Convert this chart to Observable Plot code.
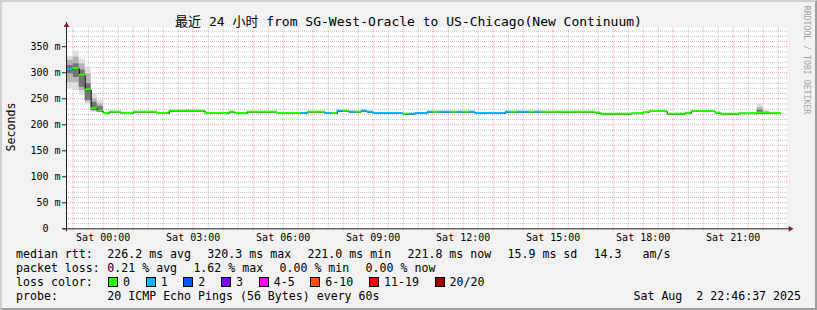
<!DOCTYPE html>
<html><head><meta charset="utf-8">
<script src="https://cdn.jsdelivr.net/npm/d3@7"></script>
<script src="https://cdn.jsdelivr.net/npm/@observablehq/plot@0.6"></script>
<style>
html,body{margin:0;padding:0;background:#f2f2f2;}
#wrap{position:relative;width:817px;height:310px;overflow:hidden;background:#f2f2f2;font-family:"DejaVu Sans Mono","Noto Sans CJK SC",monospace;color:#000;}
#wrap svg{position:absolute;left:0;top:0;}
.t{position:absolute;white-space:pre;line-height:14px;font-size:11.6px;}
.sw{position:absolute;width:8px;height:8px;border:1px solid #000;}
#shade{position:absolute;left:0;top:0;width:817px;height:310px;box-sizing:border-box;border-top:2px solid #cfcfcf;border-left:2px solid #cfcfcf;border-bottom:2px solid #9e9e9e;border-right:2px solid #9e9e9e;pointer-events:none;}
</style></head>
<body><div id="wrap"></div>
<script>
// ---- data ----
const titleText = "最近 24 小时 from SG-West-Oracle to US-Chicago(New Continuum)";
const yAxisTitle = "Seconds";
const watermark = "RRDTOOL / TOBI OETIKER";
const rangeStart = "2025-08-01T22:46:37Z";
const rangeEnd = "2025-08-02T22:46:37Z";
const firstBin = "2025-08-01T22:48:00Z";
const binMinutes = 12;
// median rtt (ms) per 12-minute bin
const medians = [
306, 308, 295, 267, 231, 226,
221.7, 224.3, 224.3, 221.7, 221.7, 224.3, 224.3, 224.3, 224.3, 221.7,
221.7, 226.2, 226.2, 226.2, 226.2, 226.2, 226.2, 221.7, 221.7, 221.7,
221.7, 224.3, 221.7, 221.7, 224.3, 224.3, 224.3, 224.3, 224.3, 221.7,
221.7, 221.7, 221.7, 221.7, 224.3, 224.3, 224.3, 221.7, 221.7, 226.2,
226.2, 224.3, 224.3, 226.2, 224.3, 221.7, 221.7, 221.7, 221.7, 221.7,
220.4, 220.4, 221.7, 221.7, 224.3, 224.3, 224.3, 224.3, 224.3, 224.3,
224.3, 224.3, 221.7, 221.7, 221.7, 221.7, 221.7, 224.3, 224.3, 224.3,
224.3, 224.3, 224.3, 224.3, 224.3, 224.3, 224.3, 224.3, 224.3, 224.3,
224.3, 224.3, 222.5, 220.4, 220.4, 220.4, 220.4, 220.4, 221.5, 221.5,
223.5, 225.6, 225.6, 225.6, 220.4, 220.4, 220.4, 222, 225.6, 225.6,
225.6, 225.6, 222.5, 220.4, 220.4, 220.4, 221.5, 221.5, 221.5, 222.5,
222, 221.8, 221.8
];
// lost pings (of 20) per bin
const lostPings = [
1,0,0,0,0,0,
0,0,0,0,0,0,0,0,0,0,
0,0,0,0,0,0,0,0,0,0,
0,0,0,0,0,0,0,0,0,0,
0,0,0,1,0,0,0,1,0,1,
0,1,0,1,1,1,1,1,1,1,
0,1,1,1,1,0,1,1,0,1,
0,1,1,1,1,1,1,1,0,1,
1,0,1,0,0,0,0,0,0,0,
0,0,0,0,0,0,0,0,0,0,
0,0,0,0,0,0,0,0,0,0,
0,0,0,0,0,0,0,0,0,0,
0,0,0
];
// smoke (ping spread) for bins where it is visible
const smokeBins    = [0, 1, 2, 3, 4, 5, 115, 116];
const smokeOuterLo = [269, 266, 256, 240, 224, 224, 221, 221];
const smokeOuterHi = [331, 341, 326, 311, 260, 247, 240, 228];
const smokeMidLo   = [281, 281, 266, 244, 226, 225.6, 221.5, 221.5];
const smokeMidHi   = [324, 330, 317, 298, 250, 240, 233, 225];
const smokeCoreLo  = [298, 291, 272, 247, 227.5, 226, 222, 222];
const smokeCoreHi  = [314, 317, 305, 279, 243, 235, 228, 223];
// axes
const yTicks = [0, 50, 100, 150, 200, 250, 300, 350];
const yMax = 387;
const xTickTimes = ["2025-08-02T00:00:00Z","2025-08-02T03:00:00Z","2025-08-02T06:00:00Z","2025-08-02T09:00:00Z","2025-08-02T12:00:00Z","2025-08-02T15:00:00Z","2025-08-02T18:00:00Z","2025-08-02T21:00:00Z"];
const xTickLabels = ["Sat 00:00","Sat 03:00","Sat 06:00","Sat 09:00","Sat 12:00","Sat 15:00","Sat 18:00","Sat 21:00"];
// legend
const lossLabels = ["0","1","2","3","4-5","6-10","11-19","20/20"];
const lossUpper  = [0, 1, 2, 3, 5, 10, 19, 20];
const lossColors = ["#26ff00","#00b8ff","#0059ff","#7e00ff","#ff00ff","#ff5500","#ff0000","#a10000"];
const rttLabel = "median rtt:";
const rttItems = ["226.2 ms avg","320.3 ms max","221.0 ms min","221.8 ms now","15.9 ms sd","14.3   am/s"];
const pktLabel = "packet loss:";
const pktItems = ["0.21 % avg","1.62 % max","0.00 % min","0.00 % now"];
const lossColorLabel = "loss color:";
const probeLabel = "probe:";
const probeText = "20 ICMP Echo Pings (56 Bytes) every 60s";
const stampText = "Sat Aug  2 22:46:37 2025";

// ---- build ----
const start = new Date(rangeStart), end = new Date(rangeEnd);
const b0 = +new Date(firstBin), stepMs = binMinutes * 60000;
const bins = medians.map((m, i) => ({
  t0: new Date(b0 + i * stepMs), t1: new Date(b0 + (i + 1) * stepMs),
  median: m, loss: lossLabels[lossUpper.findIndex(u => lostPings[i] <= u)]
}));
const linePts = bins.map(d => ({t: d.t0, v: d.median}));
linePts.push({t: bins[bins.length - 1].t1, v: medians[medians.length - 1]});
const smoke = smokeBins.map((b, j) => ({
  t0: bins[b].t0, t1: bins[b].t1,
  oLo: smokeOuterLo[j], oHi: smokeOuterHi[j],
  mLo: smokeMidLo[j], mHi: smokeMidHi[j],
  cLo: smokeCoreLo[j], cHi: smokeCoreHi[j]
}));
const minorY = d3.range(10, yMax, 10).filter(v => v % 50 !== 0);
const majorY = d3.range(50, yMax, 50);
const hours = d3.utcHour.range(start, end);
const halfHours = d3.utcMinute.every(30).range(start, end).filter(d => d.getUTCMinutes() === 30);
const tickLabelMap = new Map(xTickTimes.map((t, i) => [+new Date(t), xTickLabels[i]]));

const gridGray = "rgba(143,143,143,0.55)";
const gridRed = "rgba(232,90,90,0.55)";

const chart = Plot.plot({
  width: 817, height: 310,
  marginLeft: 66, marginRight: 31, marginTop: 27, marginBottom: 81.7,
  style: {background: "transparent", fontFamily: "DejaVu Sans Mono", fontSize: "10px", color: "#000"},
  x: {type: "utc", domain: [start, end]},
  y: {domain: [0, yMax]},
  color: {type: "ordinal", domain: lossLabels, range: lossColors},
  marks: [
    Plot.frame({fill: "white", stroke: "none"}),
    Plot.gridY(minorY, {stroke: gridGray, strokeOpacity: 1, strokeDasharray: "1,1", insetRight: -2}),
    Plot.gridX(halfHours, {stroke: gridGray, strokeOpacity: 1, strokeDasharray: "1,1"}),
    Plot.gridY(majorY, {stroke: gridRed, strokeOpacity: 1, strokeDasharray: "1,1", insetRight: -2}),
    Plot.gridX(hours, {stroke: gridRed, strokeOpacity: 1, strokeDasharray: "1,1", insetBottom: -3}),
    Plot.rect(smoke, {x1: "t0", x2: "t1", y1: "oLo", y2: "oHi", fill: "#dedede"}),
    Plot.rect(smoke, {x1: "t0", x2: "t1", y1: "mLo", y2: "mHi", fill: "#b4b4b4"}),
    Plot.rect(smoke, {x1: "t0", x2: "t1", y1: "cLo", y2: "cHi", fill: "#747474"}),
    Plot.line(linePts, {x: "t", y: "v", curve: "step-after", stroke: "#000", strokeWidth: 1}),
    Plot.rect(bins, {x1: "t0", x2: "t1", y1: "median", y2: "median", insetTop: -1, insetBottom: -1, fill: "loss"}),
    Plot.ruleX([start], {stroke: "#1f1f1f", insetTop: -5, insetBottom: -3}),
    Plot.ruleY([0], {stroke: "#1f1f1f", insetLeft: -3, insetRight: -4}),
    Plot.dot([{x: start, y: yMax}], {x: "x", y: "y", symbol: "triangle", r: 2.1, fill: "#801f1f", stroke: "none", dy: -2.1}),
    Plot.dot([{x: end, y: 0}], {x: "x", y: "y", symbol: "triangle", r: 2.1, rotate: 90, fill: "#801f1f", stroke: "none", dx: 3.8}),
    Plot.axisY(yTicks, {tickFormat: d => d === 0 ? "0\u00a0\u00a0" : d + " m", tickSize: 4, tickPadding: 2, stroke: "#1f1f1f", fill: "#000", label: null, fontSize: 10}),
    Plot.axisX(xTickTimes.map(t => new Date(t)), {tickFormat: d => tickLabelMap.get(+d), tickSize: 0, tickPadding: 5, fill: "#000", label: null, fontSize: 10})
  ]
});

const wrap = document.getElementById("wrap");
wrap.appendChild(chart);

function addText(txt, left, top, extra) {
  const s = document.createElement("div");
  s.className = "t";
  s.textContent = txt;
  s.style.left = left + "px";
  s.style.top = top + "px";
  if (extra) Object.assign(s.style, extra);
  wrap.appendChild(s);
  return s;
}
// title
addText(titleText, 0, 14, {width: "817px", textAlign: "center", fontSize: "13px", lineHeight: "16px"});
// y axis title
addText(yAxisTitle, 11, 127, {fontSize: "11.6px", transform: "translate(-50%,-50%) rotate(-90deg)"});
// watermark
addText(watermark, 807, 60, {fontSize: "8.2px", color: "#a3a3a3", transform: "translate(-50%,-50%) rotate(90deg)", lineHeight: "10px"});

const cw = 6.98, gap = 16.3, col0 = 16, col1 = 107.3;
const rowTop = [247.3, 261.3, 275.3, 289];
function row(label, items, r) {
  addText(label, col0, rowTop[r]);
  let x = col1;
  items.forEach(it => { addText(it, x, rowTop[r]); x += it.length * cw + gap; });
}
row(rttLabel, rttItems, 0);
row(pktLabel, pktItems, 1);
addText(lossColorLabel, col0, rowTop[2]);
let sx = 108;
lossLabels.forEach((lab, i) => {
  const sw = document.createElement("div");
  sw.className = "sw";
  sw.style.left = sx + "px";
  sw.style.top = (rowTop[2] + 2) + "px";
  sw.style.background = lossColors[i];
  wrap.appendChild(sw);
  addText(lab, sx + 15, rowTop[2]);
  sx = sx + 15 + lab.length * cw + 15.7;
});
row(probeLabel, [probeText], 3);
addText(stampText, 0, rowTop[3], {width: "801px", textAlign: "right"});

const shade = document.createElement("div");
shade.id = "shade";
wrap.appendChild(shade);
</script>
</body></html>
